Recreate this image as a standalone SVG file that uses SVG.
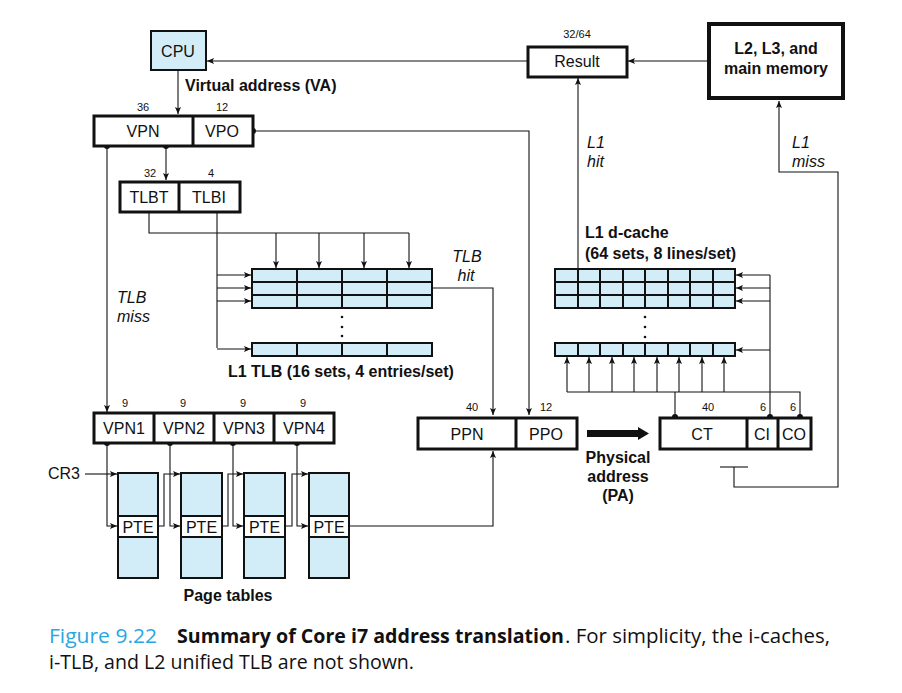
<svg xmlns="http://www.w3.org/2000/svg" width="902" height="693" viewBox="0 0 902 693">
<style>
text{font-family:"Liberation Sans",Arial,sans-serif;fill:#111}
.lbl{font-size:16px;text-anchor:middle}
.num{font-size:11px;text-anchor:middle}
.b{font-weight:bold}
.it{font-style:italic;font-size:16px}
.box{fill:#fff;stroke:#111;stroke-width:3}
.blue{fill:#d3edf8}
.grid{fill:#d3edf8;stroke:#111;stroke-width:2}
.gl{stroke:#111;stroke-width:2;fill:none}
.c{fill:none;stroke:#111;stroke-width:1.1}
.a{marker-end:url(#ah)}
.cap{font-family:"Open Sans","Liberation Sans",sans-serif;font-size:20px}
.fig{fill:#2aa6df}
</style>
<defs>
<marker id="ah" markerUnits="userSpaceOnUse" markerWidth="8" markerHeight="7" refX="7" refY="3" orient="auto">
<path d="M0,0 L7,3 L0,6 L1.5,3 z" fill="#111"/>
</marker>
</defs>

<g id="connectors">
<path class="c a" d="M527,61 H207"/>
<path class="c a" d="M708,61 H628"/>
<path class="c a" d="M178,70 V114"/>
<path class="c a" d="M166,146 V180"/>
<path class="c a" d="M107,146 V412"/>
<path class="c a" d="M253,131 H529 V415"/>
<path class="c" d="M149,213 V233 H409"/>
<path class="c a" d="M276,233 V268"/>
<path class="c a" d="M319,233 V268"/>
<path class="c a" d="M364,233 V268"/>
<path class="c a" d="M409,233 V268"/>
<path class="c" d="M217,213 V348"/>
<path class="c a" d="M217,275 H251"/>
<path class="c a" d="M217,288 H251"/>
<path class="c a" d="M217,301 H251"/>
<path class="c a" d="M217,349 H251"/>
<path class="c a" d="M432,288 H493 V415"/>
<path class="c a" d="M85,474 H117"/>
<path class="c a" d="M107,443 V526 H117"/>
<path class="c a" d="M170,443 V526 H180"/>
<path class="c a" d="M233,443 V526 H243"/>
<path class="c a" d="M297,443 V526 H308"/>
<path class="c a" d="M158,526 H164 V474 H180"/>
<path class="c a" d="M222,526 H228 V474 H243"/>
<path class="c a" d="M285,526 H292 V474 H308"/>
<path class="c a" d="M349,526 H493 V451"/>
<path class="c a" d="M578,269 V78"/>
<path class="c a" d="M734,467 V487 H838 V172 H779 V101"/>
<path class="c" d="M720,467 H748"/>
<path class="c" d="M770,417 V275"/>
<path class="c a" d="M770,275 H736"/>
<path class="c a" d="M770,288 H736"/>
<path class="c a" d="M770,301 H736"/>
<path class="c a" d="M770,350 H736"/>
<path class="c" d="M675,417 V392"/>
<path class="c" d="M567,392 H800 V417"/>
<path class="c a" d="M567,392 V357"/>
<path class="c a" d="M589,392 V357"/>
<path class="c a" d="M612,392 V357"/>
<path class="c a" d="M634,392 V357"/>
<path class="c a" d="M657,392 V357"/>
<path class="c a" d="M679,392 V357"/>
<path class="c a" d="M702,392 V357"/>
<path class="c a" d="M724,392 V357"/>
<path d="M587,433.5 H640" stroke="#111" stroke-width="7"/>
<polygon points="638,427 649,433.5 638,440" fill="#111"/>
<g fill="#111">
<circle cx="107" cy="146" r="3"/>
<circle cx="166" cy="146" r="3"/>
<circle cx="253" cy="131" r="3"/>
<circle cx="107" cy="443" r="3"/>
<circle cx="170" cy="443" r="3"/>
<circle cx="233" cy="443" r="3"/>
<circle cx="297" cy="443" r="3"/>
<circle cx="675" cy="417" r="3"/>
<circle cx="770" cy="417" r="3"/>
<circle cx="800" cy="417" r="3"/>
</g>
</g>

<g id="cpu">
<rect x="151" y="31" width="55" height="39" class="blue" stroke="#111" stroke-width="2"/>
<text x="178" y="57" class="lbl">CPU</text>
</g>
<text x="185" y="91" class="b" font-size="16">Virtual address (VA)</text>

<g id="result">
<rect x="528" y="47" width="99" height="30" class="box"/>
<text x="577" y="67" class="lbl">Result</text>
<text x="577" y="38" class="num">32/64</text>
</g>

<g id="memory">
<rect x="709" y="24" width="134" height="74" fill="#fff" stroke="#111" stroke-width="4"/>
<text x="776" y="54" class="lbl b">L2, L3, and</text>
<text x="776" y="74" class="lbl b">main memory</text>
</g>

<g id="va">
<rect x="94" y="116" width="159" height="30" class="box"/>
<line x1="193" y1="116" x2="193" y2="146" stroke="#111" stroke-width="3"/>
<text x="143" y="137" class="lbl">VPN</text>
<text x="222" y="137" class="lbl">VPO</text>
<text x="143" y="111" class="num">36</text>
<text x="222" y="111" class="num">12</text>
</g>

<g id="tlbaddr">
<rect x="120" y="182" width="120" height="30" class="box"/>
<line x1="179" y1="182" x2="179" y2="212" stroke="#111" stroke-width="3"/>
<text x="149" y="203" class="lbl">TLBT</text>
<text x="209" y="203" class="lbl">TLBI</text>
<text x="150" y="177" class="num">32</text>
<text x="211" y="177" class="num">4</text>
</g>

<g id="tlb">
<rect x="252" y="269" width="180" height="39" class="grid"/>
<path class="gl" d="M252,282 H432 M252,295 H432 M297,269 V308 M342,269 V308 M387,269 V308"/>
<rect x="252" y="343" width="180" height="13" class="grid"/>
<path class="gl" d="M297,343 V356 M342,343 V356 M387,343 V356"/>
<g fill="#111"><circle cx="342" cy="317" r="1.3"/><circle cx="342" cy="327" r="1.3"/><circle cx="342" cy="336" r="1.3"/></g>
<text x="228" y="377" class="b" font-size="16">L1 TLB (16 sets, 4 entries/set)</text>
</g>
<text x="467" y="262" class="it" text-anchor="middle">TLB</text>
<text x="466" y="281" class="it" text-anchor="middle">hit</text>
<text x="117" y="303" class="it">TLB</text>
<text x="117" y="322" class="it">miss</text>

<g id="dcache">
<text x="585" y="238" class="b" font-size="16">L1 d-cache</text>
<text x="585" y="259" class="b" font-size="16">(64 sets, 8 lines/set)</text>
<rect x="555" y="269" width="180" height="39" class="grid"/>
<path class="gl" d="M555,282 H735 M555,295 H735 M578,269 V308 M600,269 V308 M623,269 V308 M645,269 V308 M668,269 V308 M690,269 V308 M713,269 V308"/>
<rect x="555" y="343" width="180" height="13" class="grid"/>
<path class="gl" d="M578,343 V356 M600,343 V356 M623,343 V356 M645,343 V356 M668,343 V356 M690,343 V356 M713,343 V356"/>
<g fill="#111"><circle cx="645" cy="317" r="1.3"/><circle cx="645" cy="327" r="1.3"/><circle cx="645" cy="337" r="1.3"/></g>
</g>
<text x="587" y="148" class="it">L1</text>
<text x="587" y="167" class="it">hit</text>
<text x="792" y="148" class="it">L1</text>
<text x="792" y="167" class="it">miss</text>

<g id="vpnparts">
<rect x="94" y="413" width="240" height="30" class="box"/>
<path d="M154,413 V443 M214,413 V443 M274,413 V443" stroke="#111" stroke-width="3"/>
<text x="124" y="434" class="lbl">VPN1</text>
<text x="184" y="434" class="lbl">VPN2</text>
<text x="244" y="434" class="lbl">VPN3</text>
<text x="304" y="434" class="lbl">VPN4</text>
<text x="125" y="407" class="num">9</text>
<text x="183" y="407" class="num">9</text>
<text x="243" y="407" class="num">9</text>
<text x="303" y="407" class="num">9</text>
</g>

<g id="pt1">
<rect x="118" y="473" width="40" height="105" class="grid"/>
<rect x="118" y="516" width="40" height="21" fill="#fff" stroke="#111" stroke-width="2"/>
<text x="138" y="533" class="lbl">PTE</text>
</g>
<g id="pt2">
<rect x="181" y="473" width="41" height="105" class="grid"/>
<rect x="181" y="516" width="41" height="21" fill="#fff" stroke="#111" stroke-width="2"/>
<text x="201.5" y="533" class="lbl">PTE</text>
</g>
<g id="pt3">
<rect x="244" y="473" width="41" height="105" class="grid"/>
<rect x="244" y="516" width="41" height="21" fill="#fff" stroke="#111" stroke-width="2"/>
<text x="264.5" y="533" class="lbl">PTE</text>
</g>
<g id="pt4">
<rect x="309" y="473" width="40" height="105" class="grid"/>
<rect x="309" y="516" width="40" height="21" fill="#fff" stroke="#111" stroke-width="2"/>
<text x="329" y="533" class="lbl">PTE</text>
</g>
<text x="48" y="479" font-size="16">CR3</text>
<text x="228" y="601" class="lbl b">Page tables</text>

<g id="pa">
<rect x="418" y="418" width="159" height="31" class="box"/>
<line x1="516" y1="418" x2="516" y2="449" stroke="#111" stroke-width="3"/>
<text x="467" y="440" class="lbl">PPN</text>
<text x="546" y="440" class="lbl">PPO</text>
<text x="472" y="411" class="num">40</text>
<text x="546" y="411" class="num">12</text>
</g>
<text x="618" y="463" class="lbl b">Physical</text>
<text x="618" y="482" class="lbl b">address</text>
<text x="618" y="501" class="lbl b">(PA)</text>

<g id="cacheaddr">
<rect x="660" y="418" width="151" height="31" class="box"/>
<path d="M747,418 V449 M778,418 V449" stroke="#111" stroke-width="3"/>
<text x="702" y="440" class="lbl">CT</text>
<text x="762" y="440" class="lbl">CI</text>
<text x="794" y="440" class="lbl">CO</text>
<text x="708" y="411" class="num">40</text>
<text x="763" y="411" class="num">6</text>
<text x="793" y="411" class="num">6</text>
</g>

<g id="caption">
<text x="49" y="643" class="cap fig" textLength="108" lengthAdjust="spacingAndGlyphs">Figure 9.22</text>
<text x="177" y="643" class="cap b" textLength="387" lengthAdjust="spacingAndGlyphs">Summary of Core i7 address translation</text>
<text x="565" y="643" class="cap" textLength="265" lengthAdjust="spacingAndGlyphs">. For simplicity, the i-caches,</text>
<text x="49" y="669" class="cap" textLength="365" lengthAdjust="spacingAndGlyphs">i-TLB, and L2 unified TLB are not shown.</text>
</g>
</svg>
